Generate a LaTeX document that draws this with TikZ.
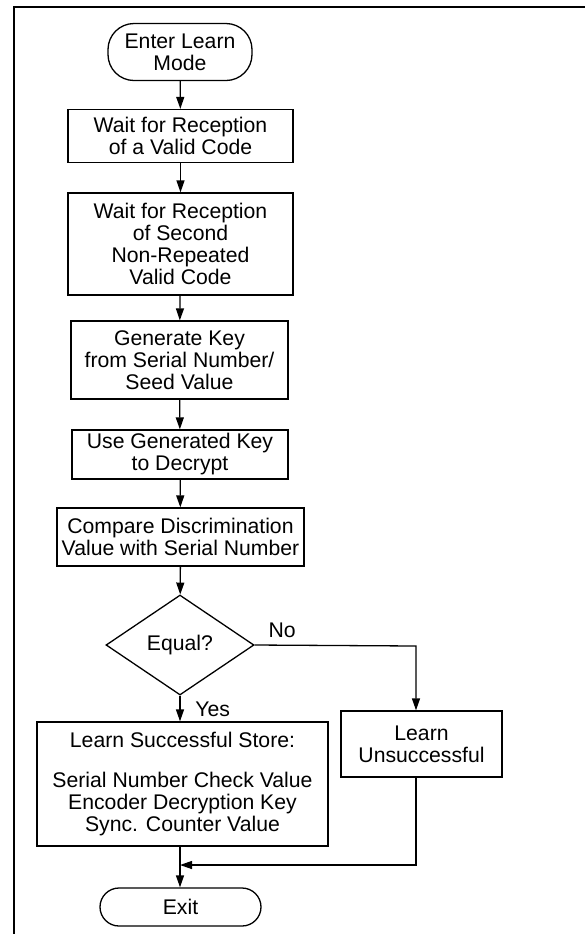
\documentclass[tikz,border=0pt]{standalone}
\usepackage{fontspec}
\setmainfont{Liberation Sans}
\usetikzlibrary{shapes.geometric,arrows.meta}

\begin{document}
\begin{tikzpicture}[x=0.5pt,y=-0.5pt,
    every node/.style={font=\fontsize{10.6}{11}\selectfont, align=center},
    box/.style={draw, line width=0.65pt, inner sep=1pt},
    term/.style={box, rounded corners=13pt},
    decision/.style={draw, line width=0.65pt, shape=diamond, inner sep=0pt,
        minimum width=74pt, minimum height=50pt},
    line/.style={line width=0.65pt},
    arr/.style={line, -{Triangle[length=6pt,width=4pt]}}]
    \useasboundingbox (0,0) rectangle (585,934);

    % frame
    \draw[line width=1pt] (585,7) -- (14,7) -- (14,934);

    \node[term, minimum width=72pt, minimum height=28.5pt] (start) at (180,52) {Enter Learn\\Mode};
    \node[box, minimum width=112.5pt, minimum height=26.5pt] (wait1) at (180.5,136) {Wait for Reception\\of a Valid Code};
    \node[box, minimum width=112.5pt, minimum height=51pt] (wait2) at (180.5,244) {Wait for Reception\\of Second\\Non-Repeated\\Valid Code};
    \node[box, minimum width=108.5pt, minimum height=39pt] (genkey) at (179.5,360) {Generate Key\\from Serial Number/\\Seed Value};
    \node[box, minimum width=108pt, minimum height=24.5pt] (decrypt) at (180,454.5) {Use Generated Key\\to Decrypt};
    \node[box, minimum width=123.5pt, minimum height=29pt] (compare) at (180.5,537) {Compare Discrimination\\Value with Serial Number};
    \node[decision] (equal) at (180,645) {Equal?};
    \node[box, minimum width=145.5pt, minimum height=62pt] (success) at (182.5,784)
        {Learn Successful Store:\\[9pt]Serial Number Check Value\\Encoder Decryption Key\\Sync. Counter Value};
    \node[box, minimum width=80.5pt, minimum height=33pt] (fail) at (421.5,744) {Learn\\Unsuccessful};
    \node[term, rounded corners=9.5pt, minimum width=80.5pt, minimum height=19pt] (exit) at (180.5,907) {Exit};

    \coordinate (nobend) at (416,646);
    \coordinate (join) at (180,865);

    \draw[arr] (start) -- (wait1);
    \draw[arr] (wait1) -- (wait2);
    \draw[arr] (wait2) -- (genkey);
    \draw[arr] (genkey) -- (decrypt);
    \draw[arr] (decrypt) -- (compare);
    \draw[arr] (compare) -- (equal);
    \draw[arr] (equal.south) -- (equal.south |- success.north) node[pos=0.55,right=4pt] {Yes};
    \draw[arr] (equal.east) -- (nobend) node[pos=0.17,above=0pt] {No} -- (nobend |- fail.north);
    \draw[arr] (nobend |- fail.south) -- (nobend |- join) -- (join);
    \draw[arr] (join |- success.south) -- (join |- exit.north);
\end{tikzpicture}
\end{document}
